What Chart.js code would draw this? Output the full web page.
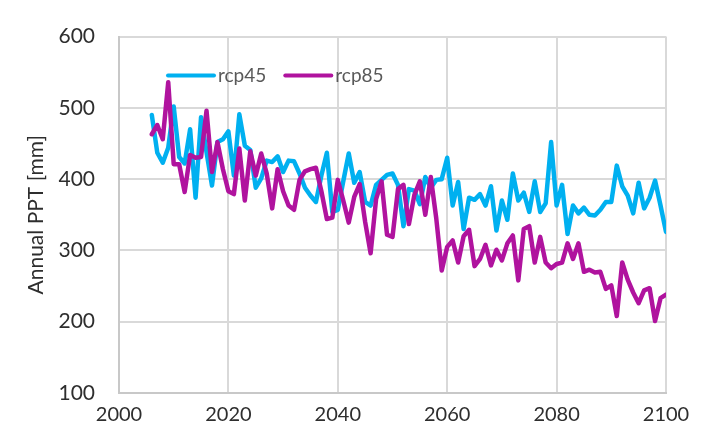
<!DOCTYPE html>
<html>
<head>
<meta charset="utf-8">
<script src="https://cdn.jsdelivr.net/npm/chart.js@4.4.1/dist/chart.umd.min.js"></script>
<style>
  html, body { margin: 0; padding: 0; background: #ffffff; }
  #c { display: block; }
</style>
</head>
<body>
<canvas id="c" width="718" height="437"></canvas>
<script>
// Simulation years
const years = [
  2006, 2007, 2008, 2009, 2010, 2011, 2012, 2013, 2014, 2015,
  2016, 2017, 2018, 2019, 2020, 2021, 2022, 2023, 2024, 2025,
  2026, 2027, 2028, 2029, 2030, 2031, 2032, 2033, 2034, 2035,
  2036, 2037, 2038, 2039, 2040, 2041, 2042, 2043, 2044, 2045,
  2046, 2047, 2048, 2049, 2050, 2051, 2052, 2053, 2054, 2055,
  2056, 2057, 2058, 2059, 2060, 2061, 2062, 2063, 2064, 2065,
  2066, 2067, 2068, 2069, 2070, 2071, 2072, 2073, 2074, 2075,
  2076, 2077, 2078, 2079, 2080, 2081, 2082, 2083, 2084, 2085,
  2086, 2087, 2088, 2089, 2090, 2091, 2092, 2093, 2094, 2095,
  2096, 2097, 2098, 2099, 2100
];

// Annual precipitation [mm], RCP 4.5 scenario
const rcp45 = [
  490, 437, 423, 444, 502, 431, 422, 470, 374, 487,
  438, 391, 452, 456, 467, 405, 491, 447, 441, 388,
  401, 426, 424, 432, 410, 426, 425, 408, 388, 377,
  368, 405, 437, 354, 357, 397, 436, 395, 410, 368,
  363, 392, 399, 406, 408, 392, 334, 386, 384, 365,
  403, 388, 399, 400, 430, 363, 396, 330, 374, 371,
  379, 363, 390, 328, 370, 343, 408, 370, 381, 354,
  397, 354, 366, 452, 363, 392, 323, 363, 352, 360,
  350, 349, 357, 368, 368, 419, 390, 377, 352, 395,
  359, 374, 398, 363, 326
];

// Annual precipitation [mm], RCP 8.5 scenario
const rcp85 = [
  463, 476, 456, 536, 421, 421, 382, 434, 430, 431,
  496, 410, 452, 414, 383, 379, 443, 370, 439, 405,
  436, 408, 359, 414, 383, 363, 357, 399, 411, 414,
  416, 383, 344, 346, 399, 370, 339, 375, 393, 340,
  296, 372, 397, 322, 319, 386, 392, 337, 378, 397,
  350, 403, 345, 272, 305, 314, 283, 320, 329, 278,
  288, 308, 279, 301, 286, 310, 321, 258, 330, 334,
  283, 319, 283, 275, 281, 283, 310, 288, 310, 270,
  273, 269, 270, 246, 251, 208, 283, 259, 241, 226,
  244, 247, 201, 233, 238
];

const xTicks = [2000, 2020, 2040, 2060, 2080, 2100];
const yTicks = [100, 200, 300, 400, 500, 600];

const FONT = 'Lato, "Open Sans", sans-serif';
const TEXT = '#2e2e2e';
const GRID = '#d9d9d9';

function toPoints(values) {
  return years.map((yr, i) => ({ x: yr, y: values[i] }));
}

// Legend drawn inside the plot area, near its top-left corner
const inlineLegend = {
  id: 'inlineLegend',
  afterDatasetsDraw(chart) {
    const { ctx, chartArea } = chart;
    let x = chartArea.left + 49;
    const y = chartArea.top + 39;
    ctx.save();
    ctx.font = '19px ' + FONT;
    ctx.textBaseline = 'middle';
    ctx.textAlign = 'left';
    chart.data.datasets.forEach(ds => {
      ctx.strokeStyle = ds.borderColor;
      ctx.lineWidth = 4;
      ctx.lineCap = 'round';
      ctx.beginPath();
      ctx.moveTo(x, y);
      ctx.lineTo(x + 46, y);
      ctx.stroke();
      ctx.fillStyle = '#595959';
      ctx.fillText(ds.label, x + 50, y);
      x += 50 + ctx.measureText(ds.label).width + 19;
    });
    ctx.restore();
  }
};

function draw() {
  new Chart(document.getElementById('c'), {
    type: 'line',
    data: {
      datasets: [
        {
          label: 'rcp45',
          data: toPoints(rcp45),
          borderColor: '#00b0f0',
          borderWidth: 4.5,
          borderJoinStyle: 'round',
          borderCapStyle: 'round',
          pointRadius: 0,
          tension: 0,
          fill: false,
          order: 1
        },
        {
          label: 'rcp85',
          data: toPoints(rcp85),
          borderColor: '#b0139e',
          borderWidth: 4.5,
          borderJoinStyle: 'round',
          borderCapStyle: 'round',
          pointRadius: 0,
          tension: 0,
          fill: false,
          order: 0
        }
      ]
    },
    options: {
      responsive: false,
      animation: false,
      devicePixelRatio: 1,
      layout: { padding: { left: 0, right: 52, top: 17, bottom: 0 } },
      plugins: {
        legend: { display: false },
        tooltip: { enabled: false }
      },
      scales: {
        x: {
          type: 'linear',
          min: 2000,
          max: 2100,
          afterBuildTicks: s => { s.ticks = xTicks.map(v => ({ value: v })); },
          afterFit: s => { s.height = 44; },
          grid: { color: GRID, lineWidth: 2, drawTicks: false },
          border: { color: '#c8c8c8', width: 2 },
          ticks: {
            color: TEXT,
            padding: 10,
            maxRotation: 0,
            font: { family: FONT, size: 20 },
            callback: v => String(v)
          }
        },
        y: {
          min: 100,
          max: 600,
          afterBuildTicks: s => { s.ticks = yTicks.map(v => ({ value: v })); },
          afterFit: s => { s.width = 119; },
          grid: { color: GRID, lineWidth: 2, drawTicks: false },
          border: { color: '#c8c8c8', width: 2 },
          ticks: {
            color: TEXT,
            padding: 24,
            font: { family: FONT, size: 21 }
          },
          title: {
            display: true,
            text: 'Annual PPT [mm]',
            color: TEXT,
            font: { family: FONT, size: 21, lineHeight: 1.2 },
            padding: { top: 24, bottom: 0 }
          }
        }
      }
    },
    plugins: [inlineLegend]
  });
}

if (document.fonts && document.fonts.load) {
  Promise.all([
    document.fonts.load('19px Lato'),
    document.fonts.load('21px Lato')
  ]).then(draw, draw);
} else {
  draw();
}
</script>
</body>
</html>
